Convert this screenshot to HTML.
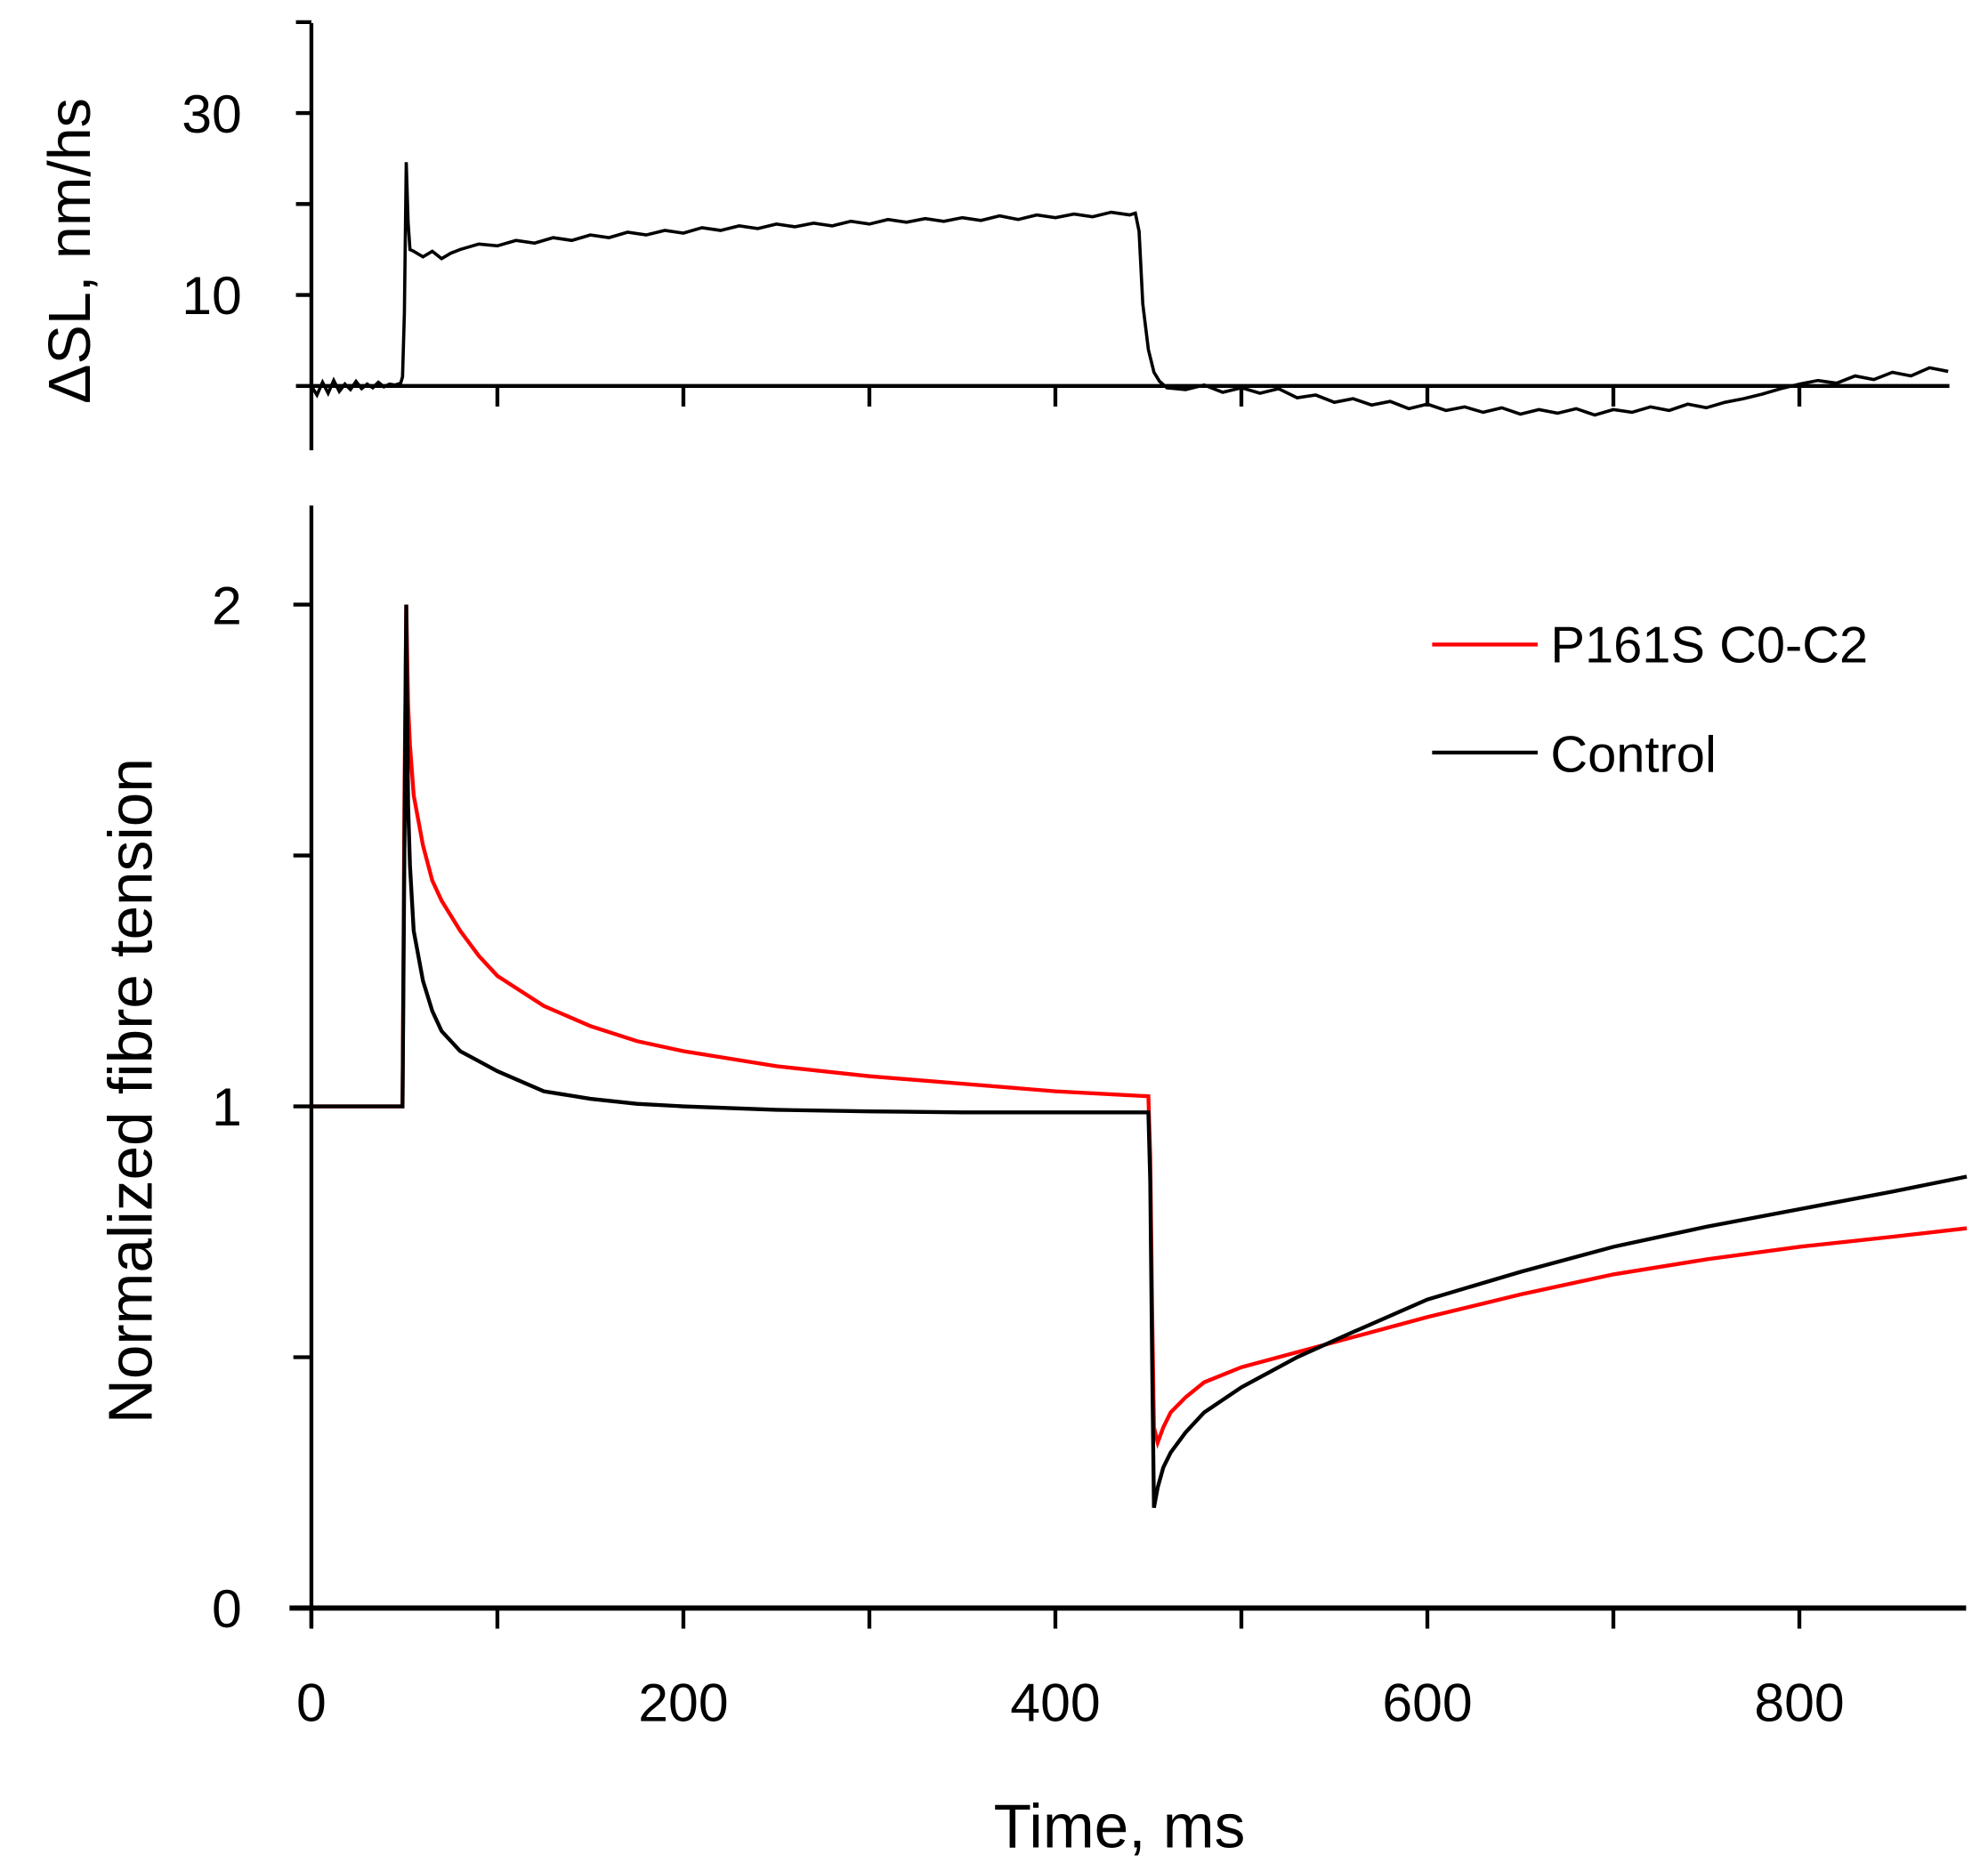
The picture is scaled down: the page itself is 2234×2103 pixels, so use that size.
<!DOCTYPE html>
<html><head><meta charset="utf-8"><style>
html,body{margin:0;padding:0;background:#fff}
svg{display:block}
text{font-family:"Liberation Sans",sans-serif;fill:#000}
</style></head><body>
<svg id="chart" width="2234" height="2103" viewBox="0 0 1545 1454.4" preserveAspectRatio="none" xmlns="http://www.w3.org/2000/svg">
<g id="topPanel"></g>
<g id="botPanel"></g>
<text x="0" y="0" font-size="46" text-anchor="middle" transform="translate(70,195) rotate(-90)">ΔSL, nm/hs</text>
<text x="0" y="0" font-size="48" text-anchor="middle" transform="translate(118,848) rotate(-90)">Normalized fibre tension</text>
<text x="870" y="1436" font-size="48" text-anchor="middle">Time, ms</text>
<g>
<line x1="1113" y1="501" x2="1195" y2="501" stroke="#f00" stroke-width="3"/>
<text x="1205" y="515" font-size="40">P161S C0-C2</text>
<line x1="1113" y1="585" x2="1195" y2="585" stroke="#000" stroke-width="3"/>
<text x="1205" y="600" font-size="40">Control</text>
</g>
</svg>
<script>
const topTimes=[0,3,6,9,12,15,18,21,24,27,30,33,36,39,42,45,48,49,50,51,52,53,55,60,65,70,75,80,90,100,110,120,130,140,150,160,170,180,190,200,210,220,230,240,250,260,270,280,290,300,310,320,330,340,350,360,370,380,390,400,410,420,430,440,443,445,447,450,453,456,460,470,480,490,500,510,520,530,540,550,560,570,580,590,600,610,620,630,640,650,660,670,680,690,700,710,720,730,740,750,760,770,780,790,800,810,820,830,840,850,860,870,880];
const topVals=[0,-1,0.4,-0.8,0.6,-0.6,0.2,-0.4,0.5,-0.3,0.2,-0.2,0.4,-0.1,0.2,0.1,0.3,1,8,24.6,18,15,14.8,14.2,14.8,14.0,14.6,15.0,15.6,15.4,16.0,15.7,16.3,16.0,16.6,16.3,16.9,16.6,17.1,16.8,17.4,17.1,17.6,17.3,17.8,17.5,17.9,17.6,18.1,17.8,18.3,18.0,18.4,18.1,18.5,18.2,18.7,18.3,18.8,18.5,18.9,18.6,19.1,18.8,19.0,17,9,4,1.5,0.5,-0.2,-0.4,0.1,-0.7,-0.2,-0.8,-0.3,-1.3,-1.0,-1.8,-1.4,-2.1,-1.7,-2.5,-2.0,-2.7,-2.3,-2.9,-2.4,-3.1,-2.6,-3.0,-2.5,-3.2,-2.6,-2.9,-2.3,-2.7,-2.0,-2.4,-1.8,-1.4,-0.9,-0.3,0.2,0.6,0.3,1.1,0.7,1.5,1.1,2.0,1.6];
const topYTicks=[0,10,20,30,40];
const topYLabels=["","10","","30",""];
const xTicks=[0,100,200,300,400,500,600,700,800];
const xLabels=["0","","200","","400","","600","","800"];
const tTimes=[0,10,20,30,40,49,50,51,52,53,55,60,65,70,80,90,100,125,150,175,200,250,300,350,400,450,451,452,453,455,458,462,470,480,500,530,560,600,650,700,750,800,850,890];
const redVals=[1,1,1,1,1,1,1.6,2.0,1.8,1.72,1.62,1.52,1.45,1.41,1.35,1.30,1.26,1.20,1.16,1.13,1.11,1.08,1.06,1.045,1.03,1.02,0.9,0.6,0.36,0.33,0.36,0.39,0.42,0.45,0.48,0.51,0.54,0.58,0.625,0.665,0.695,0.72,0.74,0.757];
const blackVals=[1,1,1,1,1,1,1.5,2.0,1.6,1.48,1.35,1.25,1.19,1.15,1.11,1.09,1.07,1.03,1.015,1.005,1.0,0.993,0.99,0.988,0.988,0.988,0.85,0.5,0.2,0.24,0.28,0.31,0.35,0.39,0.44,0.50,0.55,0.615,0.67,0.72,0.76,0.795,0.83,0.86];
const botYTicks=[0,0.5,1,1.5,2];
const botYLabels=["0","","1","","2"];

const NS="http://www.w3.org/2000/svg";
const xS=t=>242+t*1.4455;
const yTop=v=>300-v*7.07;
const yBot=v=>1250-v*390;
function mk(tag,attrs,parent){const e=document.createElementNS(NS,tag);for(const k in attrs)e.setAttribute(k,attrs[k]);parent.appendChild(e);return e;}
const topG=document.getElementById('topPanel'),botG=document.getElementById('botPanel');

let a=mk('line',{x1:242,y1:18,x2:242,y2:350,stroke:'#000','stroke-width':3},topG);


a=mk('line',{x1:242,y1:300,x2:1515,y2:300,stroke:'#000','stroke-width':3},topG);


topYTicks.forEach((v,i)=>{
  const tk=mk('line',{x1:230,y1:yTop(v),x2:242,y2:yTop(v),stroke:'#000','stroke-width':3},topG);
  
  
  if(topYLabels[i]){const tx=mk('text',{x:188,y:yTop(v)+15,'font-size':42,'text-anchor':'end'},topG);tx.textContent=topYLabels[i];
  
  }
});
xTicks.forEach(t=>{ if(t===0)return;
  const tk=mk('line',{x1:xS(t),y1:300,x2:xS(t),y2:316,stroke:'#000','stroke-width':3},topG);
  
  
});
let p=mk('polyline',{points:topTimes.map((t,i)=>xS(t)+','+yTop(topVals[i])).join(' '),fill:'none',stroke:'#000','stroke-width':2.5},topG);



a=mk('line',{x1:242,y1:393,x2:242,y2:1265,stroke:'#000','stroke-width':3},botG);


a=mk('line',{x1:225,y1:1250,x2:1528,y2:1250,stroke:'#000','stroke-width':4},botG);


botYTicks.forEach((v,i)=>{
  const tk=mk('line',{x1:228,y1:yBot(v),x2:242,y2:yBot(v),stroke:'#000','stroke-width':3},botG);
  
  
  if(botYLabels[i]){const tx=mk('text',{x:188,y:yBot(v)+15,'font-size':42,'text-anchor':'end'},botG);tx.textContent=botYLabels[i];
  
  }
});
xTicks.forEach((t,i)=>{
  const tk=mk('line',{x1:xS(t),y1:1250,x2:xS(t),y2:1266,stroke:'#000','stroke-width':3},botG);
  
  
  if(xLabels[i]){const tx=mk('text',{x:xS(t),y:1338,'font-size':42,'text-anchor':'middle'},botG);tx.textContent=xLabels[i];
  
  }
});
p=mk('polyline',{points:tTimes.map((t,i)=>xS(t)+','+yBot(redVals[i])).join(' '),fill:'none',stroke:'#f00','stroke-width':3},botG);


p=mk('polyline',{points:tTimes.map((t,i)=>xS(t)+','+yBot(blackVals[i])).join(' '),fill:'none',stroke:'#000','stroke-width':3},botG);


</script>
</body></html>
